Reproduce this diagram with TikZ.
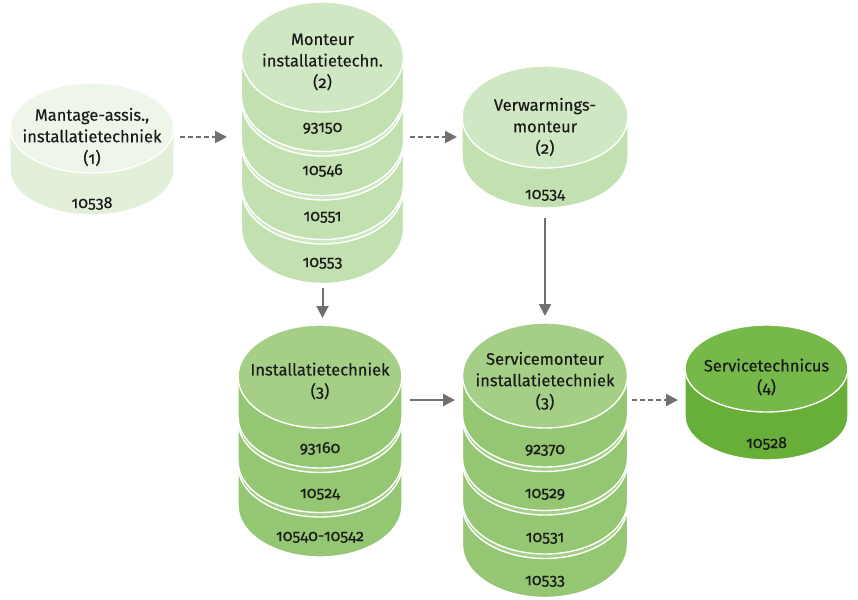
\documentclass[tikz,border=0pt]{standalone}
\usepackage{fontspec}
\setmainfont{Fira Sans}[Numbers=OldStyle]
\newfontfamily\labelfont{Fira Sans}[Numbers=OldStyle, FakeBold=0.35]
\usetikzlibrary{arrows.meta}

% stage colours: top face / side face
\definecolor{topA}{HTML}{EEF6E9}\definecolor{sideA}{HTML}{E2EFD9}
\definecolor{topB}{HTML}{D0E7C3}\definecolor{sideB}{HTML}{C2E0B0}
\definecolor{topC}{HTML}{A5CF87}\definecolor{sideC}{HTML}{94C673}
\definecolor{topD}{HTML}{76B84A}\definecolor{sideD}{HTML}{68AF3A}
\definecolor{arrowgrey}{HTML}{707070}
\definecolor{ink}{HTML}{1A1A1A}

% one drum: centre x, centre y of top face, x radius, y radius, side height, top colour, side colour
\newcommand\drum[7]{%
  \fill[#7, draw=white, line width=1.4pt]
    ({#1-#3},{#2}) -- ({#1-#3},{#2+#5})
    arc[start angle=180, end angle=360, x radius=#3pt, y radius=#4pt]
    -- ({#1+#3},{#2}) -- cycle;
  \fill[#6, draw=white, line width=1.4pt] (#1,#2) ellipse[x radius=#3pt, y radius=#4pt];
}

\tikzset{
  title/.style={text=ink, align=center, font=\labelfont\fontsize{16.5}{21.5}\selectfont, inner sep=0pt},
  code/.style={text=ink, anchor=base, font=\labelfont\fontsize{16}{18}\selectfont, inner sep=0pt},
  stackbox/.style={draw=none, inner sep=0pt, outer sep=0pt},
  conn/.style={draw=arrowgrey, line width=2pt, -{Triangle[length=12pt,width=12pt]}},
  dashconn/.style={conn, dash pattern=on 5pt off 3pt},
}

\begin{document}
\begin{tikzpicture}[x=1pt, y=-1pt]
\useasboundingbox (0,0) rectangle (858,599);

% Mantage-assistent
\drum{92}{128}{82}{45}{42}{topA}{sideA}
\node[stackbox, minimum width=164pt, minimum height=132pt] (s1) at (92,149) {};
\node[title] (t1) at (92,137) {Mantage-assis.,\\installatietechniek\\(1)};
\node[code] (c1) at (92,208) {10538};

% Monteur installatietechniek
\drum{322.5}{189}{81}{55}{39.5}{topB}{sideB}
\drum{322.5}{145}{81}{55}{39.5}{topB}{sideB}
\drum{322.5}{101}{81}{55}{39.5}{topB}{sideB}
\drum{322.5}{57}{81}{55}{39.5}{topB}{sideB}
\node[stackbox, minimum width=162pt, minimum height=281.5pt] (s2) at (322.5,142.75) {};
\node[title] (t2) at (322.5,62) {Monteur\\installatietechn.\\(2)};
\node[code] (c21) at (322.5,132) {93150};
\node[code] (c22) at (322.5,175) {10546};
\node[code] (c23) at (322.5,221) {10551};
\node[code] (c24) at (322.5,267) {10553};

% Verwarmingsmonteur
\drum{545}{117}{83}{51}{40}{topB}{sideB}
\node[stackbox, minimum width=166pt, minimum height=142pt] (s3) at (545,137) {};
\node[title] (t3) at (545,127) {Verwarmings-\\monteur\\(2)};
\node[code] (c3) at (545,199) {10534};

% Installatietechniek
\drum{320}{465.5}{82}{51.5}{40}{topC}{sideC}
\drum{320}{421}{82}{51.5}{40}{topC}{sideC}
\drum{320}{376.5}{82}{51.5}{40}{topC}{sideC}
\node[stackbox, minimum width=164pt, minimum height=232pt] (s4) at (320,441) {};
\node[title] (t4) at (320,381) {Installatietechniek\\(3)};
\node[code] (c41) at (320,453) {93160};
\node[code] (c42) at (320,498) {10524};
\node[code] (c43) at (320,541) {10540-10542};

% Servicemonteur installatietechniek
\drum{545}{506}{82.5}{52.5}{39}{topC}{sideC}
\drum{545}{462.5}{82.5}{52.5}{39}{topC}{sideC}
\drum{545}{419}{82.5}{52.5}{39}{topC}{sideC}
\drum{545}{375.5}{82.5}{52.5}{39}{topC}{sideC}
\node[stackbox, minimum width=165pt, minimum height=274pt] (s5) at (545,460) {};
\node[title] (t5) at (545,381) {Servicemonteur\\installatietechniek\\(3)};
\node[code] (c51) at (545,454) {92370};
\node[code] (c52) at (545,498) {10529};
\node[code] (c53) at (545,542) {10531};
\node[code] (c54) at (545,585) {10533};

% Servicetechnicus
\drum{766.5}{368.5}{81.5}{43.5}{48}{topD}{sideD}
\node[stackbox, minimum width=163pt, minimum height=135pt] (s6) at (766.5,392.5) {};
\node[title] (t6) at (766.5,377) {Servicetechnicus\\(4)};
\node[code] (c6) at (766.5,448) {10528};

% connector levels
\coordinate (row1) at (0,137);
\coordinate (row2) at (0,400);

\draw[dashconn, shorten <=6pt, shorten >=14.5pt] (s1.east |- row1) -- (s2.west |- row1);
\draw[dashconn, shorten <=6.5pt, shorten >=5pt] (s2.east |- row1) -- (s3.west |- row1);
\draw[conn, shorten <=4.5pt, shorten >=7pt] (s2.south) -- (s2.south |- s4.north);
\draw[conn, shorten <=10pt, shorten >=7pt] (s3.south) -- (s5.north);
\draw[conn, shorten <=8pt, shorten >=7.5pt] (s4.east |- row2) -- (s5.west |- row2);
\draw[dashconn, shorten <=4.5pt, shorten >=7pt] (s5.east |- row2) -- (s6.west |- row2);
\end{tikzpicture}
\end{document}
